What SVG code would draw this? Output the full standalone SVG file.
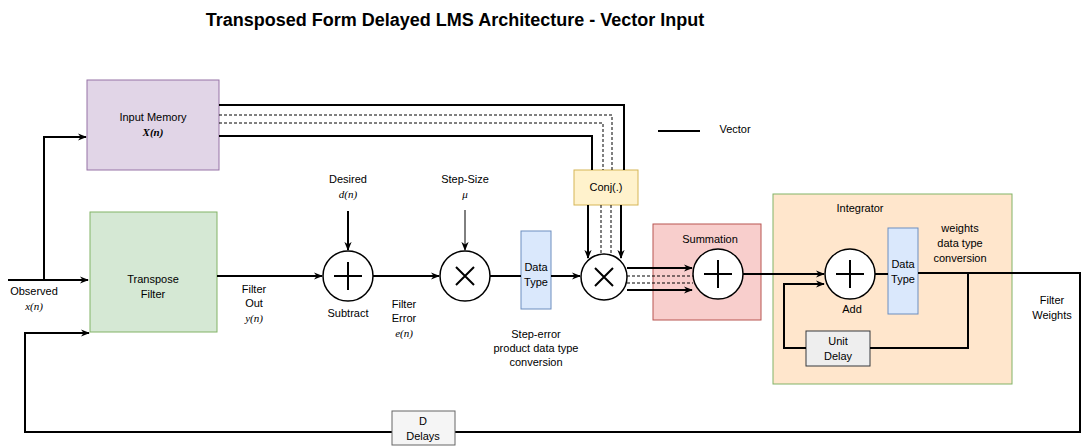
<svg xmlns="http://www.w3.org/2000/svg" width="1090" height="447" viewBox="0 0 1090 447">
<style>
text{font-family:"Liberation Sans",Arial,sans-serif;font-size:11px;fill:#000;text-anchor:middle}
.i{font-family:"Liberation Serif",serif;font-style:italic}
.w{fill:none;stroke:#000;stroke-width:2}
.t{fill:none;stroke:#000;stroke-width:1}
.d{fill:none;stroke:#000;stroke-width:1;stroke-dasharray:3 2}
.c{fill:#fff;stroke:#000;stroke-width:1.5}
</style>
<defs><marker id="b" viewBox="0 0 10 10" refX="9" refY="5" markerWidth="9" markerHeight="9" orient="auto" markerUnits="userSpaceOnUse"><path d="M0,1 L10,5 L0,9 L3,5z" fill="#000"/></marker></defs>
<text x="455" y="26" style="font-size:18px;font-weight:bold">Transposed Form Delayed LMS Architecture - Vector Input</text>
<g id="input-memory"><rect x="87" y="80" width="132" height="90" fill="#e1d5e7" stroke="#9673a6"/><text x="153" y="121">Input Memory</text><text x="153" y="136" class="i" style="font-weight:bold">X(n)</text></g>
<g id="transpose-filter"><rect x="90" y="212" width="127" height="120" fill="#d5e8d4" stroke="#82b366"/><text x="153" y="283">Transpose</text><text x="153" y="298">Filter</text></g>
<g id="observed"><text x="34" y="295">Observed</text><text x="34" y="310" class="i">x(n)</text></g>
<g id="vector-legend"><text x="735" y="133">Vector</text></g>
<g id="subtract"><circle cx="348" cy="276" r="25" class="c"/><path class="w" d="M334,276 H362 M348,262 V290"/><text x="348" y="317">Subtract</text></g>
<g id="desired"><text x="348" y="183">Desired</text><text x="348" y="198" class="i">d(n)</text></g>
<g id="filter-out"><text x="254" y="293">Filter</text><text x="254" y="307">Out</text><text x="254" y="322" class="i">y(n)</text></g>
<g id="multiply1"><circle cx="465" cy="276" r="25" class="c"/><path class="w" d="M456,267 L474,285 M474,267 L456,285"/></g>
<g id="step-size"><text x="465" y="183">Step-Size</text><text x="465" y="198" class="i">μ</text></g>
<g id="filter-error"><text x="404" y="308">Filter</text><text x="404" y="322">Error</text><text x="404" y="337" class="i">e(n)</text></g>
<g id="datatype1"><rect x="521" y="231" width="30" height="78" fill="#dae8fc" stroke="#6c8ebf"/><text x="536" y="271">Data</text><text x="536" y="286">Type</text></g>
<g id="step-error-label"><text x="536" y="338">Step-error</text><text x="536" y="352">product data type</text><text x="536" y="366">conversion</text></g>
<g id="conj"><rect x="574" y="170" width="64" height="35" fill="#fff2cc" stroke="#d6b656"/><text x="606" y="191">Conj(.)</text></g>
<g id="multiply2"><circle cx="604" cy="277" r="23" class="c"/><path class="w" d="M595,268 L613,286 M613,268 L595,286"/></g>
<g id="summation"><rect x="653" y="224" width="108" height="96" fill="#f8cecc" stroke="#b85450"/><text x="710" y="243">Summation</text><circle cx="718" cy="274" r="25" class="c"/><path class="w" d="M704,274 H732 M718,260 V288"/></g>
<g id="integrator"><rect x="773" y="194" width="239" height="190" fill="#ffe6cc" stroke="#82b366"/><text x="860" y="212">Integrator</text></g>
<g id="add"><circle cx="850" cy="274" r="25" class="c"/><path class="w" d="M836,274 H864 M850,260 V288"/><text x="852" y="313">Add</text></g>
<g id="datatype2"><rect x="888" y="228" width="30" height="86" fill="#dae8fc" stroke="#6c8ebf"/><text x="903" y="268">Data</text><text x="903" y="283">Type</text></g>
<g id="weights-label"><text x="960" y="232">weights</text><text x="960" y="247">data type</text><text x="960" y="262">conversion</text></g>
<g id="unit-delay"><rect x="806" y="331" width="64" height="35" fill="#eeeeee" stroke="#36393d"/><text x="838" y="345">Unit</text><text x="838" y="360">Delay</text></g>
<g id="filter-weights"><text x="1052" y="304">Filter</text><text x="1052" y="319">Weights</text></g>
<g id="connectors">
<path class="w" d="M8,280 H88" marker-end="url(#b)"/>
<path class="w" d="M44,280 V137 H86" marker-end="url(#b)"/>
<path class="w" d="M219,105 H624 V170"/>
<path class="d" d="M219,115 H612 V170"/>
<path class="d" d="M219,123 H603 V170"/>
<path class="w" d="M219,136 H592 V170"/>
<path class="w" d="M588,205 V258" marker-end="url(#b)"/>
<path class="w" d="M621,205 V258" marker-end="url(#b)"/>
<path class="d" d="M601,205 V254"/>
<path class="d" d="M611,205 V254"/>
<path class="w" d="M217,276 H322" marker-end="url(#b)"/>
<path class="w" d="M348,211 V250" marker-end="url(#b)"/>
<path class="t" d="M465,210 V250" marker-end="url(#b)"/>
<path class="w" d="M373,276 H439" marker-end="url(#b)"/>
<path class="w" d="M490,276 H521"/>
<path class="w" d="M551,276 H580" marker-end="url(#b)"/>
<path class="w" d="M627,268 H692" marker-end="url(#b)"/>
<path class="w" d="M627,290 H692" marker-end="url(#b)"/>
<path class="d" d="M627,276 H693"/>
<path class="d" d="M627,283 H693"/>
<path class="w" d="M743,274 H824" marker-end="url(#b)"/>
<path class="w" d="M875,274 H888"/>
<path class="w" d="M918,273 H1080 V432 H25 V333 H89" marker-end="url(#b)"/>
<path class="w" d="M968,273 V348 H870"/>
<path class="w" d="M806,348 H784 V284 H824" marker-end="url(#b)"/>
<path class="w" d="M658,131 H700"/>
</g>
<g id="d-delays"><rect x="392" y="411" width="63" height="34" fill="#f5f5f5" stroke="#666"/><text x="423" y="425">D</text><text x="423" y="440">Delays</text></g>
</svg>
